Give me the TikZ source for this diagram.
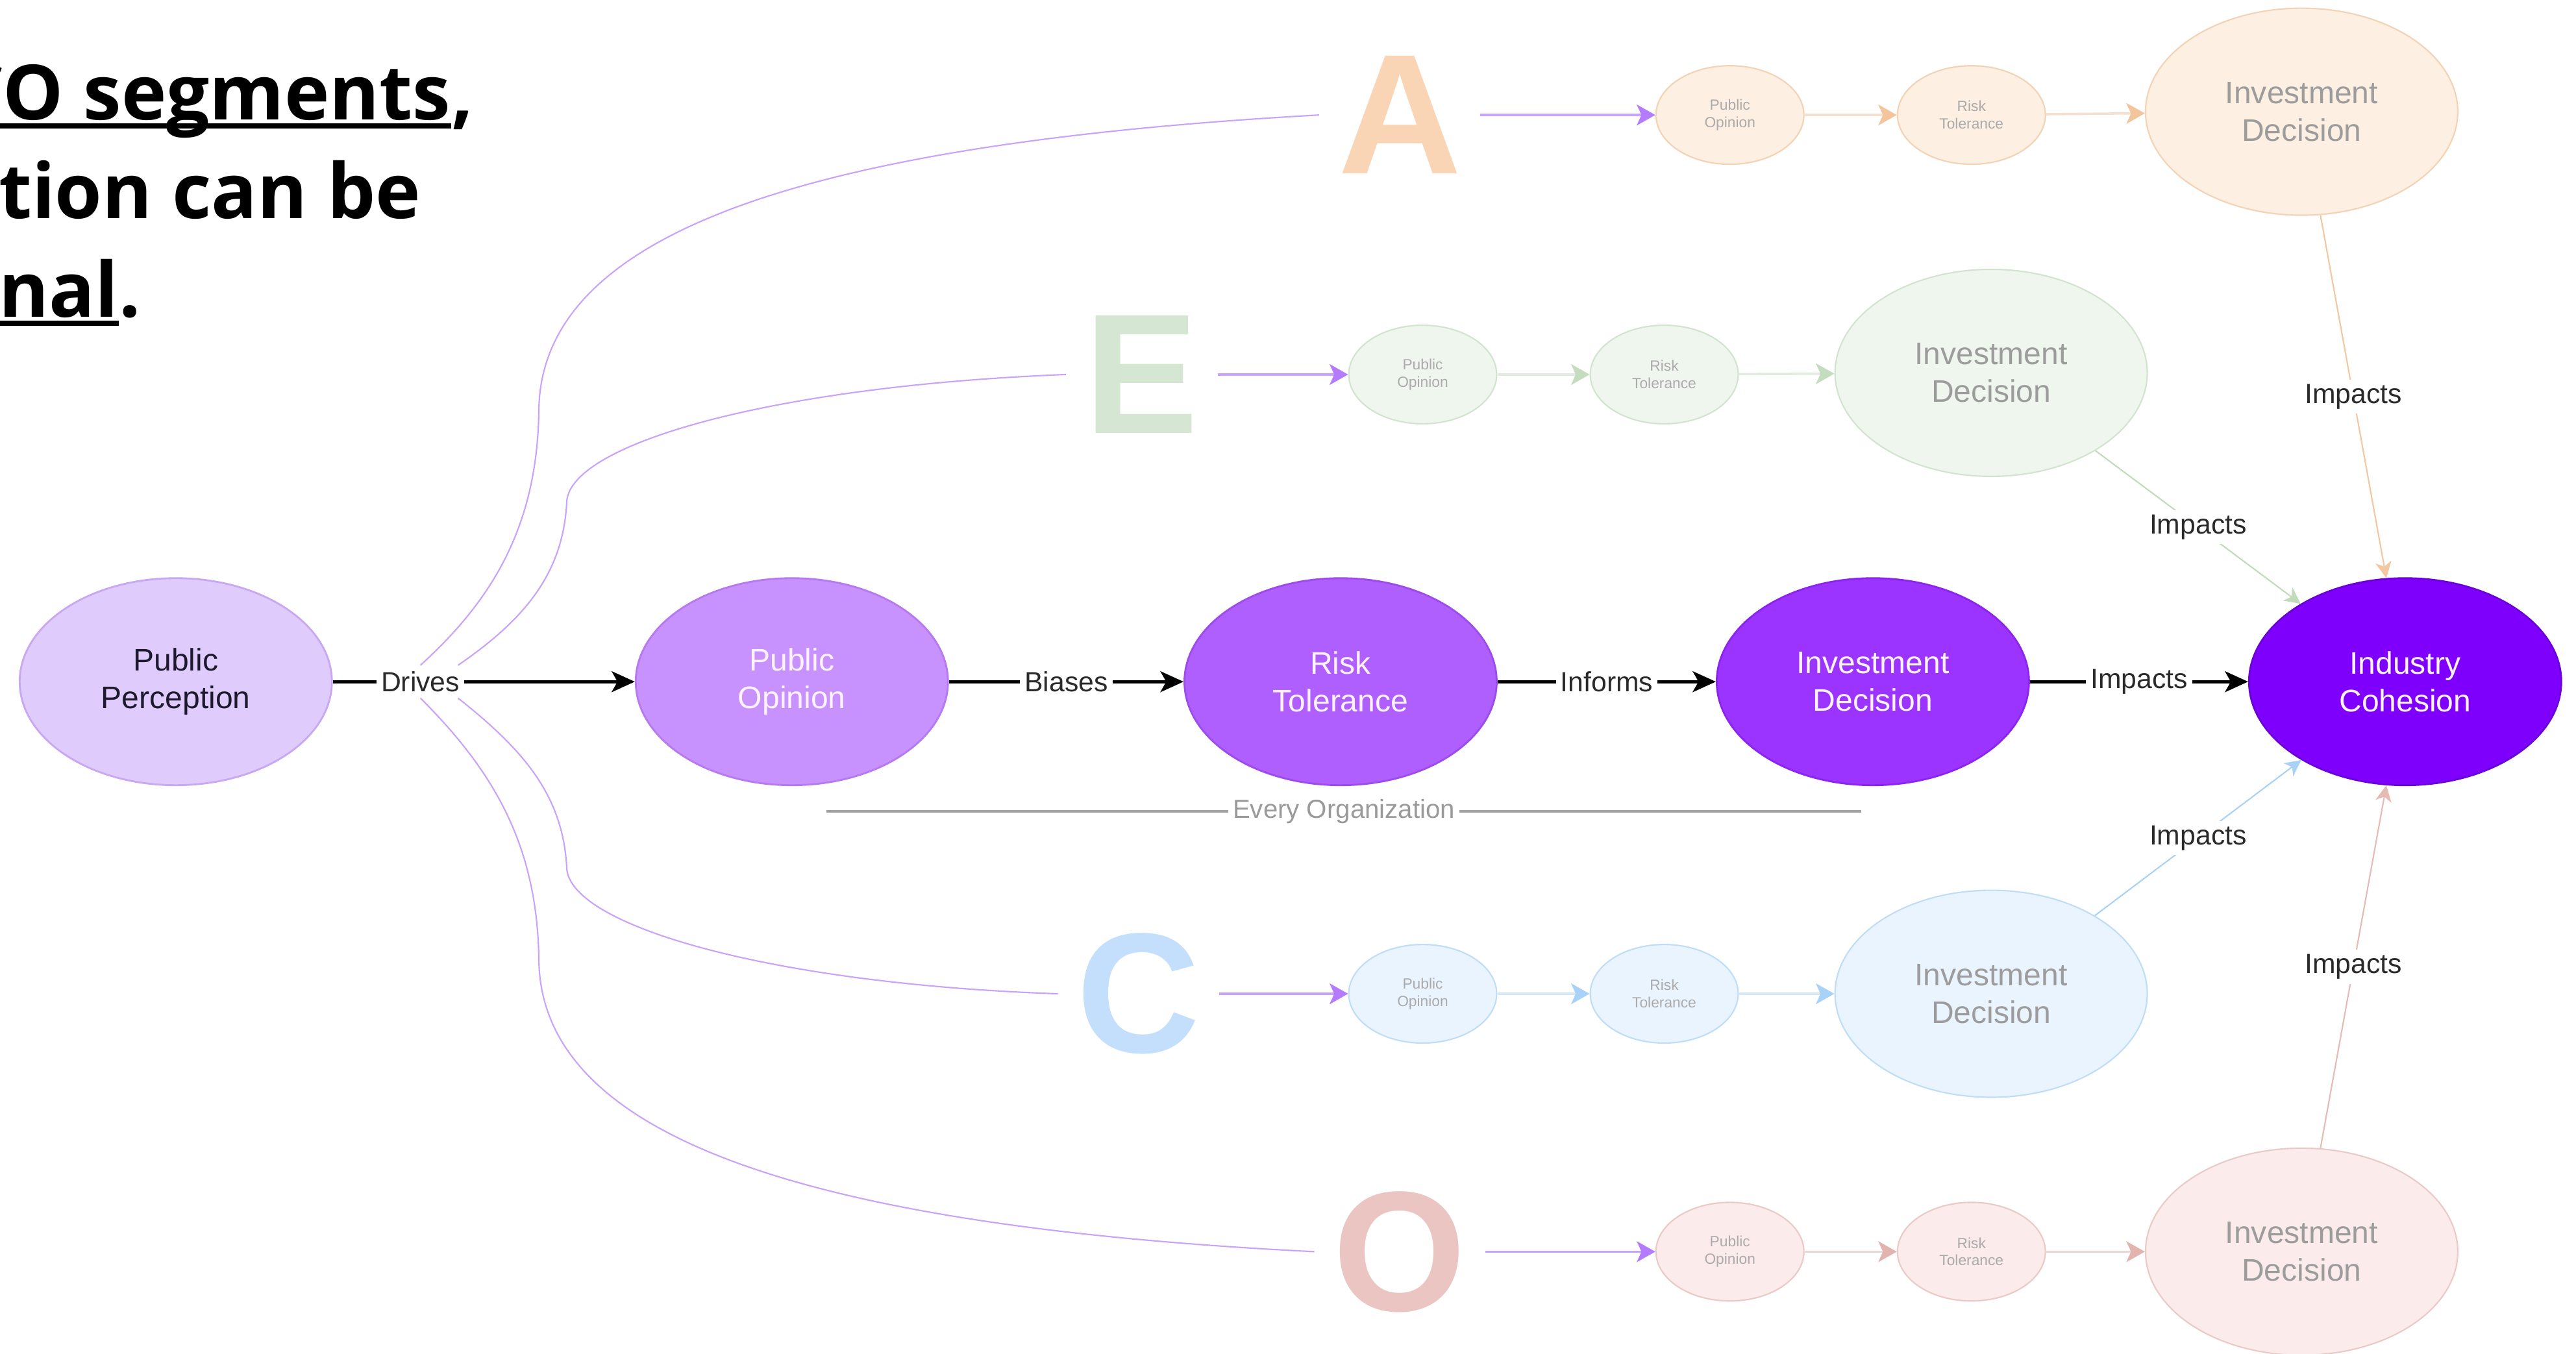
\documentclass[tikz,border=0pt]{standalone}
\usepackage{fontspec}
\setmainfont{Liberation Sans}
\newfontfamily\headfont{Open Sans}
\usetikzlibrary{shapes.geometric,arrows.meta}

\definecolor{ppFill}{HTML}{E0CBFD}
\definecolor{ppDraw}{HTML}{C9A8F2}
\definecolor{ppTxt}{HTML}{1E1A2E}
\definecolor{poFill}{HTML}{C791FE}
\definecolor{poDraw}{HTML}{B679F0}
\definecolor{rtFill}{HTML}{AE5FFD}
\definecolor{rtDraw}{HTML}{9D4BEB}
\definecolor{idFill}{HTML}{9B34FE}
\definecolor{idDraw}{HTML}{8A24EE}
\definecolor{icFill}{HTML}{7E00FC}
\definecolor{icDraw}{HTML}{6C00DA}
\definecolor{inTxt}{HTML}{FFF2FF}
\definecolor{aLet}{HTML}{F9D5B5}
\definecolor{aFill}{HTML}{FDEFE2}
\definecolor{aDraw}{HTML}{F2D3B5}
\definecolor{aHead}{HTML}{F3C59C}
\definecolor{aLine}{HTML}{F4E0CE}
\definecolor{aSide}{HTML}{F3C7A2}
\definecolor{eLet}{HTML}{D5E7D2}
\definecolor{eFill}{HTML}{EFF6EE}
\definecolor{eDraw}{HTML}{D2E4CF}
\definecolor{eHead}{HTML}{C3DDBE}
\definecolor{eLine}{HTML}{E2EBE0}
\definecolor{eSide}{HTML}{C0DCBA}
\definecolor{cLet}{HTML}{C3DFFC}
\definecolor{cFill}{HTML}{EAF4FE}
\definecolor{cDraw}{HTML}{C0DDF7}
\definecolor{cHead}{HTML}{A9D2F9}
\definecolor{cLine}{HTML}{D3E7F8}
\definecolor{cSide}{HTML}{AAD2F7}
\definecolor{oLet}{HTML}{EBC5C1}
\definecolor{oFill}{HTML}{FBECEB}
\definecolor{oDraw}{HTML}{EACAC6}
\definecolor{oHead}{HTML}{E3B4AE}
\definecolor{oLine}{HTML}{EDD6D3}
\definecolor{oSide}{HTML}{E6BBB5}
\definecolor{drvLine}{HTML}{C9A3FA}
\definecolor{pLine}{HTML}{C7A2FF}
\definecolor{pHead}{HTML}{B47BFF}
\definecolor{fadeTxt}{HTML}{9C9C9C}
\definecolor{smallTxt}{HTML}{ABABAB}
\definecolor{lblTxt}{HTML}{2A2A2A}
\definecolor{orgLine}{HTML}{A2A2A2}
\definecolor{orgTxt}{HTML}{9A9A9A}

\begin{document}
\begin{tikzpicture}
  [
    x=0.025cm, y=-0.025cm,
    big/.style={ellipse, draw, line width=0.8pt, inner sep=0,
    minimum width=4.75cm, minimum height=3.15cm, align=center,
    font=\fontsize{13.5}{16.3}\selectfont},
    faded/.style={big, line width=0.6pt, text=fadeTxt},
    small/.style={ellipse, draw, line width=0.6pt, inner sep=0,
    minimum width=2.25cm, minimum height=1.5cm, align=center,
    text=smallTxt, font=\fontsize{6.4}{7.5}\selectfont},
    letter/.style={inner sep=0.28cm, font=\fontsize{74}{74}\selectfont\bfseries},
    head/.style={inner sep=0, anchor=base west,
    font=\headfont\bfseries\fontsize{33}{40}\selectfont},
    uln/.style={draw=black, line width=2.2pt},
    lbl/.style={fill=white, inner sep=2pt, text=lblTxt,
    font=\fontsize{12}{14}\selectfont},
    ld/.style={draw=black, line width=1.4pt,
    -{Stealth[length=10pt,width=9pt,inset=2.5pt]}},
    drv/.style={draw=drvLine, line width=0.6pt},
    pd/.style={draw=pLine, line width=1pt,
    -{Stealth[length=8pt,width=9pt,inset=2pt,color=pHead]}},
    rw/.style={line width=1pt, -{Stealth[length=8pt,width=9pt,inset=2pt,color=#1]}},
    imp/.style={draw=#1, line width=0.6pt, -{Stealth[length=7pt,width=7pt,inset=2pt]}},
    org/.style={draw=orgLine, line width=1.1pt}
  ]

  \useasboundingbox (0,0) rectangle (1568,824);

  \node (head1) at (-27,73)  [head] {CO segments};
  \node (head1c) at (head1.base east) [head] {,};
  \node (head2) at (-1,133)  [head] {tion can be};
  \node (head3) at (-1,193)  [head] {nal};
  \node (head3d) at (head3.base east) [head] {.};
  \draw [uln] ([yshift=-2.6pt]head1.base west) -- ([yshift=-2.6pt]head1.base east);
  \draw [uln] ([yshift=-2.6pt]head3.base west) -- ([yshift=-2.6pt]head3.base east);

  \node (pp) at ( 107,415) [big, fill=ppFill, draw=ppDraw, text=ppTxt] {Public\\Perception};
  \node (po) at ( 482,415) [big, fill=poFill, draw=poDraw, text=inTxt] {Public\\Opinion};
  \node (rt) at ( 816,415) [big, fill=rtFill, draw=rtDraw, text=inTxt] {Risk\\Tolerance};
  \node (id) at (1140,415) [big, fill=idFill, draw=idDraw, text=inTxt] {Investment\\Decision};
  \node (ic) at (1464,415) [big, fill=icFill, draw=icDraw, text=inTxt] {Industry\\Cohesion};

  \draw [ld] (pp) -- node[lbl, pos=0.29] (drives) {Drives} (po);
  \draw [ld] (po) -- node[lbl] {Biases} (rt);
  \draw [ld] (rt) -- node[lbl] {Informs} (id);
  \draw [ld] (id) -- node[lbl] {Impacts} (ic);

  \coordinate (orgL) at (503,494);
  \coordinate (orgR) at (1133,494);
  \draw [org] (orgL) -- node[lbl, text=orgTxt, font=\fontsize{11.3}{13}\selectfont] {Every Organization} (orgR);

  \node (lA) at (852, 70) [letter, text=aLet] {A};
  \node (lE) at (695,228) [letter, text=eLet] {E};
  \node (lC) at (693,605) [letter, text=cLet] {C};
  \node (lO) at (852,762) [letter, text=oLet] {O};

  \node (poA) at (1053, 70) [small, fill=aFill, draw=aDraw] {Public\\Opinion};
  \node (rtA) at (1200, 70) [small, fill=aFill, draw=aDraw] {Risk\\Tolerance};
  \node (idA) at (1401, 68) [faded, fill=aFill, draw=aDraw] {Investment\\Decision};

  \node (poE) at ( 866,228) [small, fill=eFill, draw=eDraw] {Public\\Opinion};
  \node (rtE) at (1013,228) [small, fill=eFill, draw=eDraw] {Risk\\Tolerance};
  \node (idE) at (1212,227) [faded, fill=eFill, draw=eDraw] {Investment\\Decision};

  \node (poC) at ( 866,605) [small, fill=cFill, draw=cDraw] {Public\\Opinion};
  \node (rtC) at (1013,605) [small, fill=cFill, draw=cDraw] {Risk\\Tolerance};
  \node (idC) at (1212,605) [faded, fill=cFill, draw=cDraw] {Investment\\Decision};

  \node (poO) at (1053,762) [small, fill=oFill, draw=oDraw] {Public\\Opinion};
  \node (rtO) at (1200,762) [small, fill=oFill, draw=oDraw] {Risk\\Tolerance};
  \node (idO) at (1401,762) [faded, fill=oFill, draw=oDraw] {Investment\\Decision};

  \draw [drv] (drives.north) .. controls (300,365) and (327,320) .. (328,250)
    .. controls (329,145) and (480,88) .. (lA.west);
  \draw [drv] ([xshift=-0.12cm]drives.north east) .. controls (318,378) and (343,350) .. (345,305)
    .. controls (348,270) and (470,235) .. (lE.west);
  \draw [drv] ([xshift=-0.12cm]drives.south east) .. controls (318,456) and (343,484) .. (345,529)
    .. controls (348,564) and (470,599) .. (lC.west);
  \draw [drv] (drives.south) .. controls (300,469) and (327,514) .. (328,584)
    .. controls (329,689) and (480,746) .. (lO.west);

  \draw [pd] (lA) -- (poA);
  \draw [pd] (lE) -- (poE);
  \draw [pd] (lC) -- (poC);
  \draw [pd] (lO) -- (poO);

  \draw [rw=aHead, draw=aLine] (poA) -- (rtA);
  \draw [rw=aHead, draw=aLine] (rtA) -- (idA);
  \draw [rw=eHead, draw=eLine] (poE) -- (rtE);
  \draw [rw=eHead, draw=eLine] (rtE) -- (idE);
  \draw [rw=cHead, draw=cLine] (poC) -- (rtC);
  \draw [rw=cHead, draw=cLine] (rtC) -- (idC);
  \draw [rw=oHead, draw=oLine] (poO) -- (rtO);
  \draw [rw=oHead, draw=oLine] (rtO) -- (idO);

  \draw [imp=aSide] (idA) -- node[lbl] {Impacts} (ic);
  \draw [imp=eSide] (idE) -- node[lbl] {Impacts} (ic);
  \draw [imp=cSide] (idC) -- node[lbl] {Impacts} (ic);
  \draw [imp=oSide] (idO) -- node[lbl] {Impacts} (ic);
\end{tikzpicture}
\end{document}
